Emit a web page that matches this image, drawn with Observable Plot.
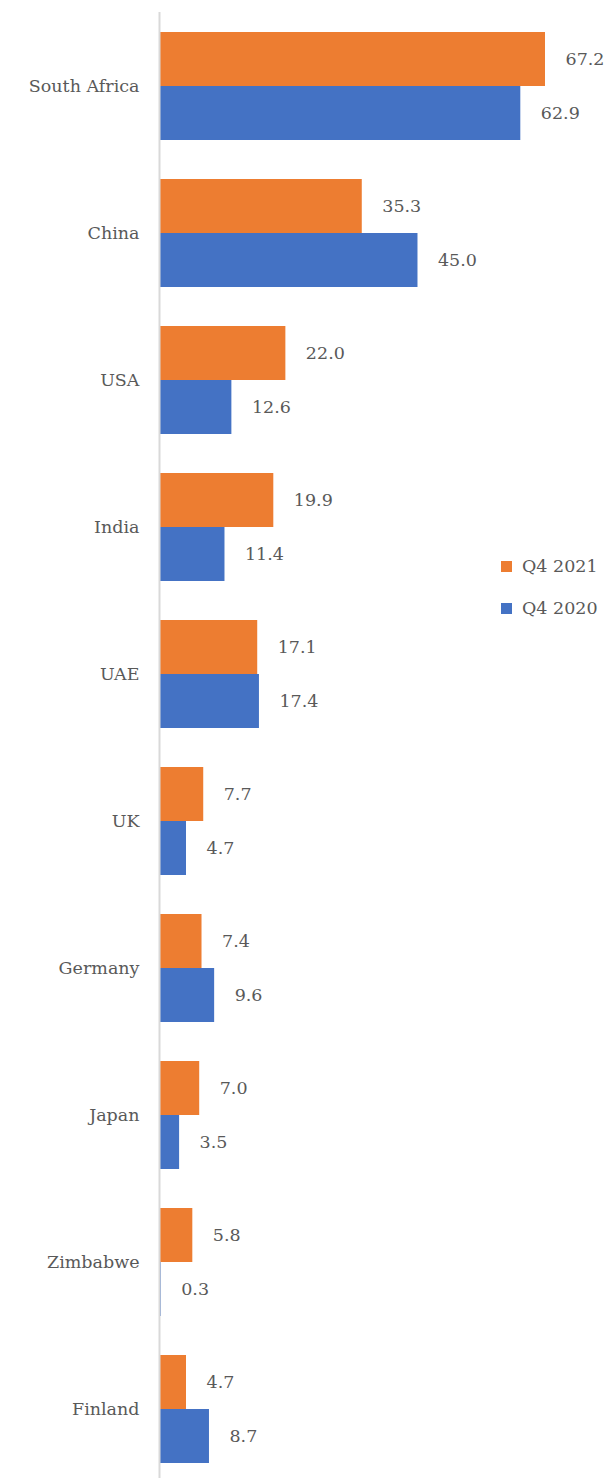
<!DOCTYPE html>
<html><head><meta charset="utf-8">
<script src="https://cdn.jsdelivr.net/npm/d3@7"></script>
<script src="https://cdn.jsdelivr.net/npm/@observablehq/plot@0.6"></script>
<style>
body{margin:0;background:#fff;}
#wrap{position:relative;width:604px;height:1478px;}
#legend{position:absolute;left:501px;top:553px;font-family:"DejaVu Serif",serif;font-size:17.5px;color:#595959;}
.item{display:flex;align-items:center;height:26px;margin-bottom:16px;}
.sw{width:11px;height:11px;margin-right:10px;}
</style></head>
<body><div id="wrap"><div id="legend"></div></div>
<script>
const countries = ["South Africa","China","USA","India","UAE","UK","Germany","Japan","Zimbabwe","Finland"];
const q4_2021 = [67.2,35.3,22.0,19.9,17.1,7.7,7.4,7.0,5.8,4.7];
const q4_2020 = [62.9,45.0,12.6,11.4,17.4,4.7,9.6,3.5,0.3,8.7];
const seriesNames = ["Q4 2021","Q4 2020"];
const colors = ["#ED7D31","#4472C4"];

const d21 = countries.map((c,i)=>({country:c, value:q4_2021[i]}));
const d20 = countries.map((c,i)=>({country:c, value:q4_2020[i]}));
const half = 54;
const font = "DejaVu Serif";
const fs = 17.5;

const chart = Plot.plot({
  width:604, height:1478,
  marginTop:12, marginBottom:0, marginLeft:159, marginRight:0,
  style:{fontFamily:font, fontSize:fs+"px", color:"#595959", background:"transparent"},
  x:{domain:[0,67.2], range:[159,545], axis:null},
  y:{domain:countries, range:[31,1463], paddingInner:0.266, paddingOuter:0, label:null, tickSize:0, tickPadding:20},
  marks:[
    Plot.barX(d21,{y:"country", x:"value", fill:colors[0], insetBottom:half}),
    Plot.barX(d20,{y:"country", x:"value", fill:colors[1], insetTop:half}),
    Plot.text(d21,{y:"country", x:"value", text:d=>d.value.toFixed(1), dy:-27, dx:20, textAnchor:"start", fill:"#595959", fontSize:fs}),
    Plot.text(d20,{y:"country", x:"value", text:d=>d.value.toFixed(1), dy:27, dx:20, textAnchor:"start", fill:"#595959", fontSize:fs}),
    Plot.ruleX([0],{stroke:"#d9d9d9", strokeWidth:2}),
    Plot.axisY({tickSize:0, tickPadding:20, fontSize:fs, fill:"#595959", label:null})
  ]
});
document.getElementById("wrap").prepend(chart);
const lg = document.getElementById("legend");
seriesNames.forEach((n,i)=>{
  const it=document.createElement("div"); it.className="item";
  it.innerHTML=`<span class="sw" style="background:${colors[i]}"></span><span>${n}</span>`;
  lg.appendChild(it);
});
</script></body></html>
